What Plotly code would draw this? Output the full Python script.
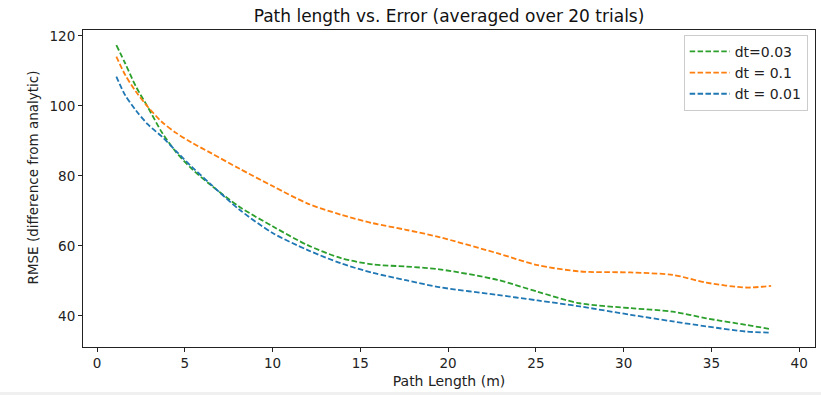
import plotly.graph_objects as go

# Data
x_vals = [1.1, 1.6, 2.2, 2.9, 3.7, 4.5, 5.4, 6.5, 8.1, 10.0, 12.0, 13.9, 15.7, 17.6, 19.5,
          22.8, 25.1, 27.5, 30.4, 32.8, 34.7, 37.0, 38.4]
rmse_dt003 = [117.4, 112.2, 105.7, 99.6, 92.4, 86.8, 82.0, 77.3, 71.2, 65.6, 60.2, 56.5, 54.7, 54.1, 53.3,
              50.3, 46.9, 43.6, 42.2, 41.2, 39.3, 37.4, 36.2]
rmse_dt01 = [114.1, 108.9, 104.2, 99.7, 95.4, 92.3, 89.5, 86.5, 82.1, 77.1, 72.1, 68.9, 66.5, 64.6, 62.5,
             57.9, 54.5, 52.7, 52.4, 51.7, 49.5, 48.1, 48.6]
rmse_dt001 = [108.4, 103.1, 98.8, 94.7, 91.2, 87.1, 82.6, 77.5, 70.4, 63.7, 58.8, 55.0, 52.3, 50.2, 48.2,
              46.0, 44.4, 42.7, 40.3, 38.4, 37.0, 35.5, 35.2]

series_names = ["dt=0.03", "dt = 0.1", "dt = 0.01"]
series_values = [rmse_dt003, rmse_dt01, rmse_dt001]
series_colors = ["#2ca02c", "#ff7f0e", "#1f77b4"]

x_ticks = [0, 5, 10, 15, 20, 25, 30, 35, 40]
y_ticks = [40, 60, 80, 100, 120]

fig = go.Figure()
for name, vals, col in zip(series_names, series_values, series_colors):
    fig.add_trace(go.Scatter(
        x=x_vals, y=vals, name=name, mode="lines",
        line=dict(color=col, width=1.8, dash="5.5px,2.4px", shape="spline", smoothing=0.8),
    ))

font_family = "DejaVu Sans"
fig.update_layout(
    width=821, height=395,
    margin=dict(l=83, r=6, t=30, b=48),
    paper_bgcolor="white", plot_bgcolor="white",
    font=dict(family=font_family, size=13.5, color="#222"),
    title=dict(text="Path length vs. Error (averaged over 20 trials)", x=(83 + 815) / 2 / 821,
               xanchor="center", y=1 - 16 / 395, yanchor="middle",
               font=dict(size=17, color="#111")),
    showlegend=True,
    legend=dict(x=0.99, xanchor="right", y=0.985, yanchor="top",
                bgcolor="rgba(255,255,255,0.8)", bordercolor="#cccccc", borderwidth=1,
                font=dict(size=14, color="#222"), traceorder="normal",
                itemwidth=40, tracegroupgap=2),
    xaxis=dict(range=[-0.8, 40.9], tickvals=x_ticks, ticks="outside", ticklen=4,
               tickcolor="#222", showgrid=False, zeroline=False,
               showline=True, linecolor="#222", linewidth=1, mirror=True,
               title=dict(text="Path Length (m)", standoff=5, font=dict(size=14))),
    yaxis=dict(range=[31.1, 121.7], tickvals=y_ticks, ticks="outside", ticklen=4,
               tickcolor="#222", showgrid=False, zeroline=False,
               showline=True, linecolor="#222", linewidth=1, mirror=True),
    annotations=[dict(text="RMSE (difference from analytic)", textangle=-90,
                      xref="paper", yref="paper", x=(32.5 - 83) / 732, y=(347 - 178) / 317,
                      xanchor="center", yanchor="middle", showarrow=False,
                      font=dict(size=13.5, color="#222"))],
    shapes=[dict(type="rect", xref="paper", yref="paper", x0=-83 / 732, x1=1 + 6 / 732,
                 y0=-48 / 317, y1=-45 / 317, fillcolor="#f0f0f0", line=dict(width=0), layer="below")],
)

fig.write_html("out.html")
